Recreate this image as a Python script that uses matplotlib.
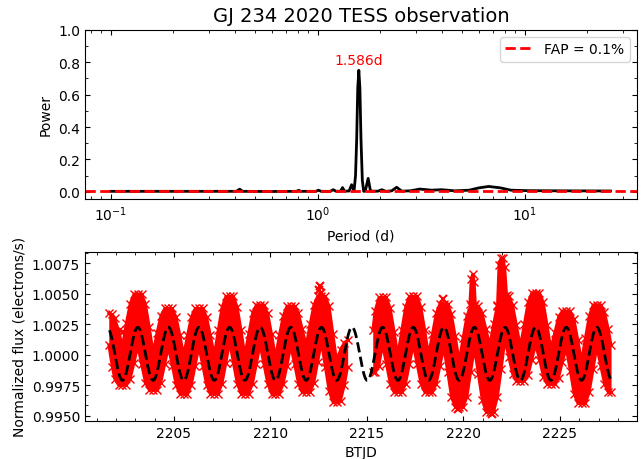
import numpy as np
import matplotlib
matplotlib.use("Agg")
import matplotlib.pyplot as plt
from matplotlib.ticker import MultipleLocator, AutoMinorLocator, FormatStrFormatter

# =====================================
# Periodogram
# =====================================
period_d = [0.10, 0.30, 0.405, 0.42, 0.435, 0.60, 0.79, 0.81, 0.83, 0.98, 1.01, 1.04,
            1.15, 1.19, 1.23, 1.29, 1.32, 1.35, 1.42, 1.46, 1.50, 1.525, 1.545, 1.563,
            1.582, 1.601, 1.62, 1.645, 1.67, 1.70, 1.755, 1.80, 1.85, 1.96, 2.04, 2.14,
            2.28, 2.41, 2.55, 2.80, 3.12, 3.55, 3.97, 4.60, 5.40, 6.00, 6.70, 7.60,
            8.60, 10.5, 15.0, 26.0]
power = [0.003, 0.003, 0.003, 0.016, 0.003, 0.002, 0.003, 0.009, 0.003, 0.003, 0.010, 0.003,
         0.003, 0.013, 0.003, 0.004, 0.026, 0.004, 0.005, 0.044, 0.004, 0.10, 0.33, 0.64,
         0.75, 0.64, 0.33, 0.07, 0.003, 0.005, 0.083, 0.006, 0.004, 0.004, 0.013, 0.003,
         0.006, 0.028, 0.004, 0.006, 0.017, 0.010, 0.013, 0.006, 0.010, 0.024, 0.033, 0.025,
         0.010, 0.007, 0.006, 0.005]
fap_level = 0.003
best_period = 1.586
best_power = 0.75

# =====================================
# Light curve envelope (upper / lower edge of the red points)
# =====================================
seg1_t = [2201.62, 2201.80, 2201.93, 2202.13, 2202.33, 2202.53, 2202.73, 2202.93, 2203.12,
          2203.32, 2203.52, 2203.72, 2203.92, 2204.12, 2204.32, 2204.52, 2204.71, 2204.91,
          2205.11, 2205.31, 2205.50, 2205.70, 2205.90, 2206.10, 2206.29, 2206.49, 2206.69,
          2206.89, 2207.09, 2207.29, 2207.49, 2207.69, 2207.88, 2208.08, 2208.28, 2208.48,
          2208.67, 2208.87, 2209.07, 2209.27, 2209.46, 2209.66, 2209.86, 2210.06, 2210.26,
          2210.46, 2210.66, 2210.86, 2211.05, 2211.25, 2211.45, 2211.65, 2211.85, 2212.05,
          2212.25, 2212.45, 2212.64, 2212.84, 2213.04, 2213.24, 2213.43, 2213.63, 2213.83,
          2214.00]
seg1_hi = [1.0034, 1.0033, 1.0030, 1.0020, 1.0007, 1.0026, 1.0042, 1.0050, 1.0050,
           1.0050, 1.0042, 1.0023, 1.0002, 1.0018, 1.0032, 1.0038, 1.0038, 1.0038,
           1.0031, 1.0016, 1.0000, 1.0016, 1.0031, 1.0038, 1.0038, 1.0038, 1.0031,
           1.0016, 1.0000, 1.0020, 1.0039, 1.0048, 1.0048, 1.0048, 1.0039, 1.0020,
           1.0000, 1.0017, 1.0034, 1.0041, 1.0041, 1.0041, 1.0034, 1.0017, 0.9998,
           1.0016, 1.0032, 1.0040, 1.0040, 1.0040, 1.0034, 1.0021, 1.0008, 1.0025,
           1.0041, 1.0048, 1.0048, 1.0048, 1.0040, 1.0017, 0.9995, 1.0004, 1.0010,
           1.0012]
seg1_lo = [1.0008, 0.9990, 0.9980, 0.9975, 0.9975, 0.9975, 0.9980, 0.9993, 1.0007,
           0.9992, 0.9977, 0.9971, 0.9971, 0.9971, 0.9977, 0.9992, 1.0006, 0.9991,
           0.9975, 0.9968, 0.9968, 0.9968, 0.9975, 0.9991, 1.0006, 0.9991, 0.9975,
           0.9968, 0.9968, 0.9968, 0.9976, 0.9993, 1.0010, 0.9993, 0.9976, 0.9968,
           0.9968, 0.9968, 0.9976, 0.9992, 1.0008, 0.9992, 0.9976, 0.9968, 0.9968,
           0.9968, 0.9976, 0.9991, 1.0007, 0.9992, 0.9976, 0.9969, 0.9969, 0.9969,
           0.9977, 0.9994, 1.0010, 0.9990, 0.9970, 0.9961, 0.9961, 0.9962, 0.9975,
           0.9990]

seg2_t = [2215.30, 2215.42, 2215.62, 2215.81, 2216.01, 2216.21, 2216.41, 2216.60, 2216.80,
          2217.00, 2217.20, 2217.40, 2217.60, 2217.80, 2218.00, 2218.19, 2218.39, 2218.59,
          2218.79, 2218.98, 2219.18, 2219.38, 2219.58, 2219.78, 2219.98, 2220.18, 2220.38,
          2220.57, 2220.77, 2220.97, 2221.17, 2221.36, 2221.56, 2221.76, 2221.96, 2222.15,
          2222.35, 2222.55, 2222.75, 2222.95, 2223.15, 2223.35, 2223.55, 2223.74, 2223.94,
          2224.14, 2224.34, 2224.53, 2224.73, 2224.93, 2225.13, 2225.33, 2225.53, 2225.73,
          2225.93, 2226.12, 2226.32, 2226.52, 2226.72, 2226.91, 2227.11, 2227.31, 2227.51,
          2227.65]
seg2_hi = [1.0020, 1.0036, 1.0047, 1.0047, 1.0047, 1.0038, 1.0019, 1.0000, 1.0020,
           1.0039, 1.0048, 1.0048, 1.0048, 1.0039, 1.0020, 1.0000, 1.0017, 1.0034,
           1.0042, 1.0042, 1.0042, 1.0033, 1.0015, 0.9995, 1.0014, 1.0032, 1.0040,
           1.0040, 1.0040, 1.0034, 1.0021, 1.0008, 1.0025, 1.0041, 1.0048, 1.0048,
           1.0048, 1.0041, 1.0024, 1.0007, 1.0025, 1.0043, 1.0051, 1.0051, 1.0051,
           1.0043, 1.0024, 1.0005, 1.0018, 1.0031, 1.0036, 1.0036, 1.0036, 1.0029,
           1.0012, 0.9995, 1.0014, 1.0032, 1.0041, 1.0041, 1.0041, 1.0035, 1.0021,
           1.0008]
seg2_lo = [0.9986, 0.9986, 0.9991, 1.0008, 0.9992, 0.9976, 0.9969, 0.9969, 0.9969,
           0.9976, 0.9992, 1.0008, 0.9992, 0.9976, 0.9969, 0.9969, 0.9969, 0.9976,
           0.9991, 1.0006, 0.9986, 0.9965, 0.9957, 0.9957, 0.9957, 0.9965, 0.9986,
           1.0005, 0.9984, 0.9963, 0.9953, 0.9953, 0.9953, 0.9965, 0.9988, 1.0012,
           0.9998, 0.9984, 0.9978, 0.9978, 0.9978, 0.9983, 0.9996, 1.0008, 0.9996,
           0.9982, 0.9976, 0.9976, 0.9976, 0.9981, 0.9994, 1.0005, 0.9987, 0.9968,
           0.9960, 0.9960, 0.9960, 0.9969, 0.9988, 1.0006, 0.9991, 0.9976, 0.9969,
           0.9969]

# flares
flare1_t = [2220.33, 2220.40, 2220.48, 2220.56, 2220.62]
flare1_hi = [1.0042, 1.0062, 1.0066, 1.0060, 1.0042]
flare2_t = [2221.76, 2221.84, 2221.94, 2222.04, 2222.14, 2222.24]
flare2_hi = [1.0040, 1.0074, 1.0079, 1.0079, 1.0072, 1.0049]
flare_base = 1.0025

# isolated points
out_t = [2202.36, 2212.50, 2212.58, 2212.64, 2218.92, 2219.70, 2221.50]
out_f = [1.0019, 1.0053, 1.0056, 1.0051, 1.0046, 0.9955, 0.9951]

# sine model at the best period
model_amp = 0.00218
model_mean = 1.00007
model_tmin = 2215.02
model_start = 2201.66
model_end = 2227.75

# =====================================
# Figure
# =====================================
fig = plt.figure(figsize=(6.44, 4.6), dpi=100)
ax1 = fig.add_axes([0.132, 0.565, 0.857, 0.368])
ax2 = fig.add_axes([0.132, 0.083, 0.857, 0.367])

# periodogram
ax1.plot(period_d, power, color="black", lw=2)
ax1.axhline(fap_level, color="red", ls="--", lw=2, label="FAP = 0.1%")
ax1.text(best_period, best_power + 0.02, f"{best_period}d", color="red",
         ha="center", va="bottom", fontsize=10)
ax1.set_xscale("log")
ax1.set_xlim(0.0752, 34.9)
ax1.set_ylim(-0.045, 1.0)
ax1.yaxis.set_major_locator(MultipleLocator(0.2))
ax1.yaxis.set_minor_locator(MultipleLocator(0.1))
ax1.yaxis.set_major_formatter(FormatStrFormatter("%.1f"))
ax1.set_xlabel("Period (d)")
ax1.set_ylabel("Power")
ax1.set_title("GJ 234 2020 TESS observation", fontsize=14)
ax1.legend(loc="upper right")

# light curve
for t, hi, lo in [(seg1_t, seg1_hi, seg1_lo), (seg2_t, seg2_hi, seg2_lo)]:
    ax2.fill_between(t, lo, hi, color="red", lw=0, zorder=1)
    ax2.plot(t, hi, "-x", color="red", lw=2, ms=6, mew=1, zorder=1)
    ax2.plot(t, lo, "-x", color="red", lw=2, ms=6, mew=1, zorder=1)

for t, hi in [(flare1_t, flare1_hi), (flare2_t, flare2_hi)]:
    ax2.fill_between(t, flare_base, hi, color="red", lw=0, zorder=1)
    ax2.plot(t, hi, "-x", color="red", lw=2, ms=6, mew=1, zorder=1)

ax2.plot(out_t, out_f, "x", color="red", ms=6, mew=1.5, zorder=1)

t_model = np.linspace(model_start, model_end, 2000)
f_model = model_mean - model_amp * np.cos(2 * np.pi * (t_model - model_tmin) / best_period)
ax2.plot(t_model, f_model, "--", color="black", lw=2, zorder=3)

ax2.set_xlim(2200.39, 2228.99)
ax2.set_ylim(0.99457, 1.00843)
ax2.xaxis.set_major_locator(MultipleLocator(5))
ax2.xaxis.set_minor_locator(MultipleLocator(1))
ax2.yaxis.set_major_locator(MultipleLocator(0.0025))
ax2.yaxis.set_minor_locator(AutoMinorLocator(3))
ax2.yaxis.set_major_formatter(FormatStrFormatter("%.4f"))
ax2.set_xlabel("BTJD")
ax2.set_ylabel("Normalized flux (electrons/s)")

for ax in (ax1, ax2):
    ax.tick_params(which="both", direction="in", top=True, right=True)

fig.savefig("out.png", dpi=100)
